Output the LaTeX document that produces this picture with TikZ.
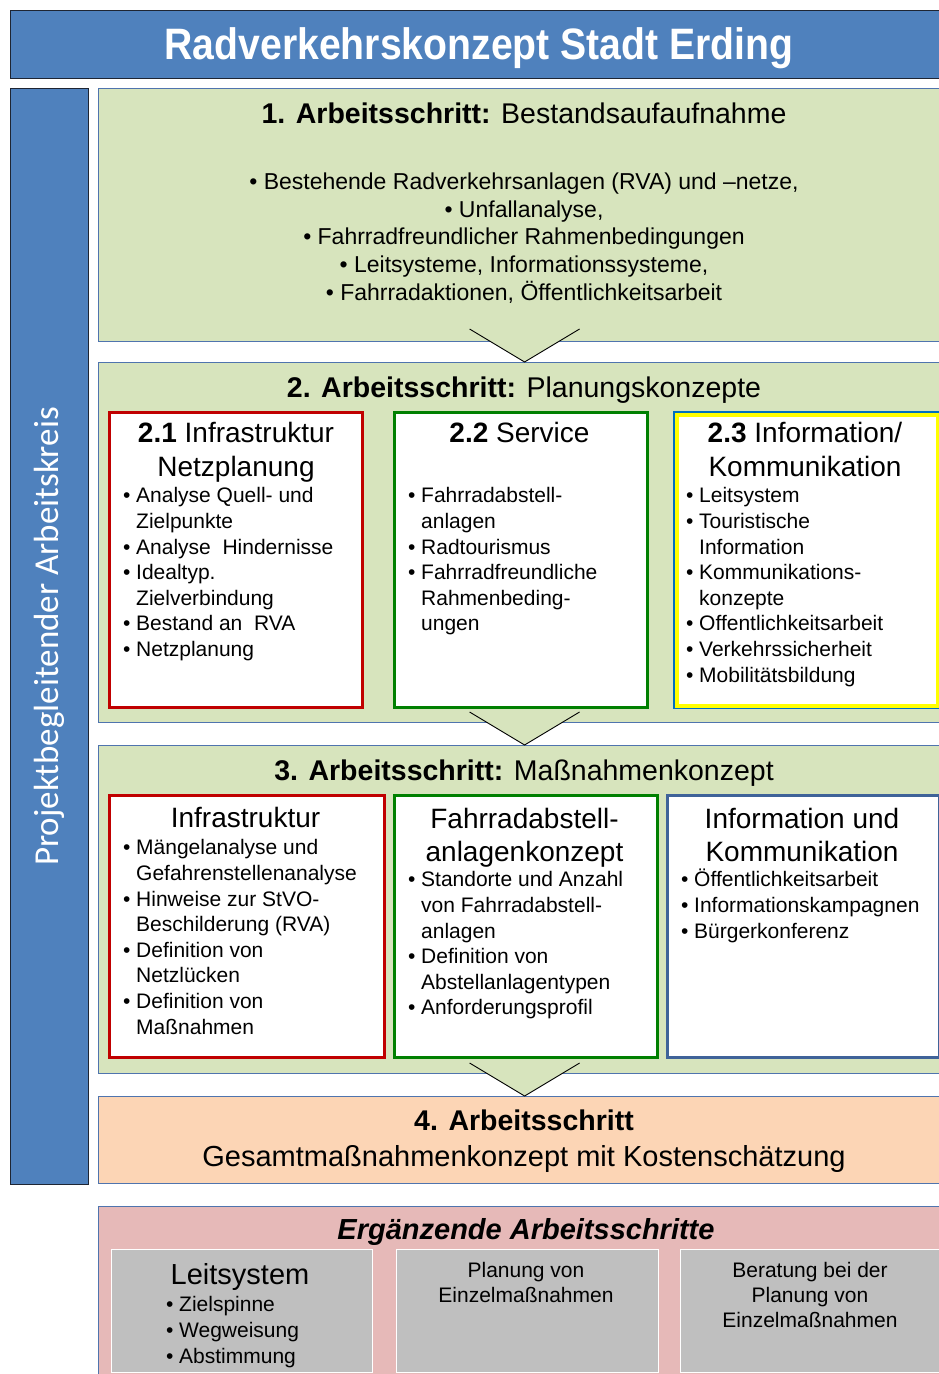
\documentclass[tikz,border=0pt]{standalone}
\usepackage{fontspec}
\usepackage{graphicx}
\setmainfont{Liberation Sans}
\newfontfamily\barfont{Carlito}
\usepackage{tikz}
\usetikzlibrary{calc}
\definecolor{titleblue}{HTML}{4F81BD}
\definecolor{barline}{HTML}{1E2533}
\definecolor{framebl}{HTML}{4F74AE}
\definecolor{stepgreen}{HTML}{D7E4BD}
\definecolor{peach}{HTML}{FCD5B5}
\definecolor{pinkfill}{HTML}{E6B9B8}
\definecolor{greyfill}{HTML}{BFBFBF}
\definecolor{redc}{HTML}{C00000}
\definecolor{greenc}{HTML}{008000}
\definecolor{bluec}{HTML}{0070C0}
\definecolor{yellowc}{HTML}{FFFF00}
\definecolor{slatec}{HTML}{3F6399}
\newcommand{\bl}{\rule{0pt}{20pt}\makebox[13pt][l]{\textbullet}}
\newcommand{\ct}{\hspace*{13pt}}
\tikzset{
  frame/.style={draw=framebl, line width=1.2pt, inner sep=0pt, anchor=north west},
  stepbox/.style={frame, fill=stepgreen, minimum width=852pt},
  subbox/.style={draw=#1, line width=3.2pt, fill=white, inner sep=0pt, anchor=north west},
  greybox/.style={draw=white, line width=1.2pt, fill=greyfill, inner sep=0pt, anchor=north west, minimum height=123pt},
  chevline/.style={draw=black, line width=0.9pt, line join=miter},
  ttl/.style={font=\fontsize{28.5}{32}\selectfont, inner sep=0pt, anchor=base},
  hd/.style={font=\fontsize{28}{33.5}\selectfont, inner sep=0pt, align=center, anchor=north},
  lst/.style={font=\fontsize{21}{25.6}\selectfont, inner sep=0pt, align=left, anchor=north west},
  body/.style={font=\fontsize{23}{27.8}\selectfont, inner sep=0pt, align=center, anchor=north},
  small/.style={font=\fontsize{21}{25}\selectfont, inner sep=0pt, align=center, anchor=north},
}

\begin{document}
\begin{tikzpicture}[x=1pt, y=-1pt]
  \useasboundingbox (0,0) rectangle (939,1374);
  % Kopf und Seitenleiste
  \node[frame, draw=barline, fill=titleblue, minimum width=938pt, minimum height=68pt] (top) at (10,10) {};
  \node[font=\bfseries\fontsize{44}{50}\selectfont, text=white, inner sep=0pt, anchor=base] (topt) at (479,59) {\scalebox{0.89}[1]{Radverkehrskonzept Stadt Erding}};
  \node[frame, draw=barline, fill=titleblue, minimum width=78pt, minimum height=1096pt] (bar) at (10,88) {};
  \node[font=\barfont\fontsize{35}{40}\selectfont, text=white, rotate=90] (bart) at (bar.center) {Projektbegleitender Arbeitskreis};

  % Schritt 1
  \node[stepbox, minimum height=253pt] (s1) at (98,88) {};
  \node[ttl] (s1t) at (524,123.3) {\textbf{1. Arbeitsschritt:} Bestandsaufaufnahme};
  \node[body] (s1b) at (524,172.4) {\textbullet\ Bestehende Radverkehrsanlagen (RVA) und –netze,\\
    \textbullet\ Unfallanalyse,\\
    \textbullet\ Fahrradfreundlicher Rahmenbedingungen\\
    \textbullet\ Leitsysteme, Informationssysteme,\\
    \textbullet\ Fahrradaktionen, Öffentlichkeitsarbeit};

  % Schritt 2
  \node[stepbox, minimum height=360pt] (s2) at (98,362) {};
  \node[ttl] (s2t) at (524,397.3) {\textbf{2. Arbeitsschritt:} Planungskonzepte};
  \node[subbox=redc, minimum width=253pt, minimum height=295pt] (b21) at (108,411) {};
  \node[subbox=greenc, minimum width=253pt, minimum height=295pt] (b22) at (393,411) {};
  \node[subbox=bluec, minimum width=265pt, minimum height=295pt] (b23) at (673,411) {};
  \draw[draw=yellowc, line width=4pt] ([shift={(3.6,3.6)}]b23.north west) rectangle ([shift={(-3.6,-3.6)}]b23.south east);
  \node[hd] (b21h) at (236,422.5) {\textbf{2.1} Infrastruktur\\Netzplanung};
  \node[lst] (b21l) at (123,482.6) {\bl Analyse Quell- und\\ \ct Zielpunkte\\ \bl Analyse\ \ Hindernisse\\
    \bl Idealtyp.\\ \ct Zielverbindung\\ \bl Bestand an\ \ RVA\\ \bl Netzplanung};
  \node[hd] (b22h) at (519.5,422.5) {\textbf{2.2} Service};
  \node[lst] (b22l) at (408,482.6) {\bl Fahrradabstell-\\ \ct anlagen\\ \bl Radtourismus\\
    \bl Fahrradfreundliche\\ \ct Rahmenbeding-\\ \ct ungen};
  \node[hd] (b23h) at (805,422.5) {\textbf{2.3} Information/\\Kommunikation};
  \node[lst] (b23l) at (686,482.6) {\bl Leitsystem\\ \bl Touristische\\ \ct Information\\
    \bl Kommunikations-\\ \ct konzepte\\ \bl Offentlichkeitsarbeit\\ \bl Verkehrssicherheit\\ \bl Mobilitätsbildung};

  % Schritt 3
  \node[stepbox, minimum height=328pt] (s3) at (98,745) {};
  \node[ttl] (s3t) at (524,780.3) {\textbf{3. Arbeitsschritt:} Maßnahmenkonzept};
  \node[subbox=redc, minimum width=275pt, minimum height=262pt] (m1) at (108,794) {};
  \node[subbox=greenc, minimum width=263pt, minimum height=262pt] (m2) at (393,794) {};
  \node[subbox=slatec, minimum width=272pt, minimum height=262pt] (m3) at (666,794) {};
  \node[hd] (m1h) at (245.5,806.5) {Infrastruktur};
  \node[lst] (m1l) at (123,834.6) {\bl Mängelanalyse und\\ \ct Gefahrenstellenanalyse\\ \bl Hinweise zur StVO-\\
    \ct Beschilderung (RVA)\\ \bl Definition von\\ \ct Netzlücken\\ \bl Definition von\\ \ct Maßnahmen};
  \node[hd] (m2h) at (524.5,807.5) {Fahrradabstell-\\anlagenkonzept};
  \node[lst] (m2l) at (408,866.6) {\bl Standorte und Anzahl\\ \ct von Fahrradabstell-\\ \ct anlagen\\
    \bl Definition von\\ \ct Abstellanlagentypen\\ \bl Anforderungsprofil};
  \node[hd] (m3h) at (802,807.5) {Information und\\Kommunikation};
  \node[lst] (m3l) at (681,866.6) {\bl Öffentlichkeitsarbeit\\ \bl Informationskampagnen\\ \bl Bürgerkonferenz};

  % Schritt 4
  \node[frame, fill=peach, minimum width=852pt, minimum height=87pt] (s4) at (98,1096) {};
  \node[ttl] (s4t) at (524,1130.3) {\textbf{4. Arbeitsschritt}};
  \node[ttl, font=\fontsize{29}{32}\selectfont] (s4b) at (524,1166.4) {Gesamtmaßnahmenkonzept mit Kostenschätzung};

  % Pfeile zwischen den Schritten
  \foreach \b in {s2,s3,s4}{
    \fill[stepgreen] ($(\b.north)+(-55,-33)$) -- (\b.north) -- ($(\b.north)+(55,-33)$) -- cycle;
    \draw[chevline] ($(\b.north)+(-55,-33)$) -- (\b.north) -- ($(\b.north)+(55,-33)$);
  }

  % Ergaenzende Arbeitsschritte
  \node[frame, fill=pinkfill, minimum width=852pt, minimum height=200pt] (s5) at (98,1206) {};
  \node[ttl, font=\fontsize{29}{32}\selectfont] (s5t) at (526,1239.4) {\bfseries\itshape Ergänzende Arbeitsschritte};
  \node[greybox, minimum width=261pt] (g1) at (111,1249) {};
  \node[greybox, minimum width=262pt] (g2) at (396,1249) {};
  \node[greybox, minimum width=270pt] (g3) at (680,1249) {};
  \node[ttl, font=\fontsize{29}{32}\selectfont] (g1t) at (240,1284.4) {Leitsystem};
  \node[lst] (g1l) at (166,1291.6) {\bl Zielspinne\\ \bl Wegweisung\\ \bl Abstimmung};
  \node[small] (g2t) at (526,1262) {Planung von\\Einzelmaßnahmen};
  \node[small] (g3t) at (810,1262) {Beratung bei der\\Planung von\\Einzelmaßnahmen};
\end{tikzpicture}
\end{document}
